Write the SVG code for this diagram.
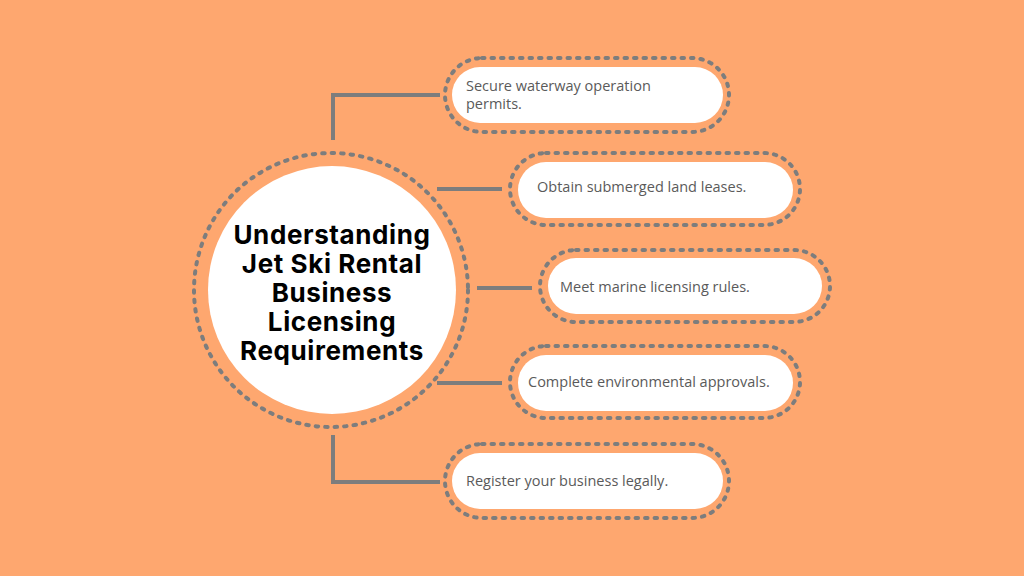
<svg xmlns="http://www.w3.org/2000/svg" width="1024" height="576" viewBox="0 0 1024 576">
<style>
.bg{fill:#FEA76F}
.ring{fill:none;stroke:#7d7d7d;stroke-width:4;stroke-dasharray:2.5 7;stroke-linecap:round}
.fillw{fill:#ffffff}
.conn{fill:none;stroke:#7d7d7d;stroke-width:4;stroke-linecap:butt}
.lbl{font-family:"Open Sans","Liberation Sans",sans-serif;font-size:14.5px;fill:#5a5a5a}
.title{font-family:Inter,"Liberation Sans",sans-serif;font-weight:700;font-size:26px;letter-spacing:0.6px;fill:#000;text-anchor:middle}
</style>
<rect class="bg" x="0" y="0" width="1024" height="576"/>
<g id="connectors">
<path class="conn" d="M333 140 V95 H440"/>
<path class="conn" d="M437 189 H502"/>
<path class="conn" d="M477 288 H532"/>
<path class="conn" d="M437 383 H502"/>
<path class="conn" d="M333 435 V482 H440"/>
</g>
<g id="center">
<circle class="ring" cx="331" cy="290" r="137"/>
<circle class="fillw" cx="332" cy="290" r="124"/>
<text class="title" x="332" y="244">Understanding</text>
<text class="title" x="332" y="273">Jet Ski Rental</text>
<text class="title" x="332" y="302">Business</text>
<text class="title" x="332" y="331">Licensing</text>
<text class="title" x="332" y="360">Requirements</text>
</g>
<g id="n1">
<rect class="ring" x="445" y="58" width="284" height="74" rx="37"/>
<rect class="fillw" x="452" y="67" width="271" height="56" rx="28"/>
<text class="lbl" x="466" y="90.5">Secure waterway operation</text>
<text class="lbl" x="466" y="108.5">permits.</text>
</g>
<g id="n2">
<rect class="ring" x="510" y="153" width="290" height="72" rx="36"/>
<rect class="fillw" x="518" y="162" width="275" height="56" rx="28"/>
<text class="lbl" x="537" y="192">Obtain submerged land leases.</text>
</g>
<g id="n3">
<rect class="ring" x="540" y="250" width="290" height="72" rx="36"/>
<rect class="fillw" x="548" y="258" width="274" height="56" rx="28"/>
<text class="lbl" x="560" y="292">Meet marine licensing rules.</text>
</g>
<g id="n4">
<rect class="ring" x="510" y="346" width="290" height="72" rx="36"/>
<rect class="fillw" x="518" y="355" width="275" height="56" rx="28"/>
<text class="lbl" x="528" y="387">Complete environmental approvals.</text>
</g>
<g id="n5">
<rect class="ring" x="445" y="444" width="284" height="74" rx="37"/>
<rect class="fillw" x="452" y="453" width="271" height="56" rx="28"/>
<text class="lbl" x="466" y="486">Register your business legally.</text>
</g>
</svg>
